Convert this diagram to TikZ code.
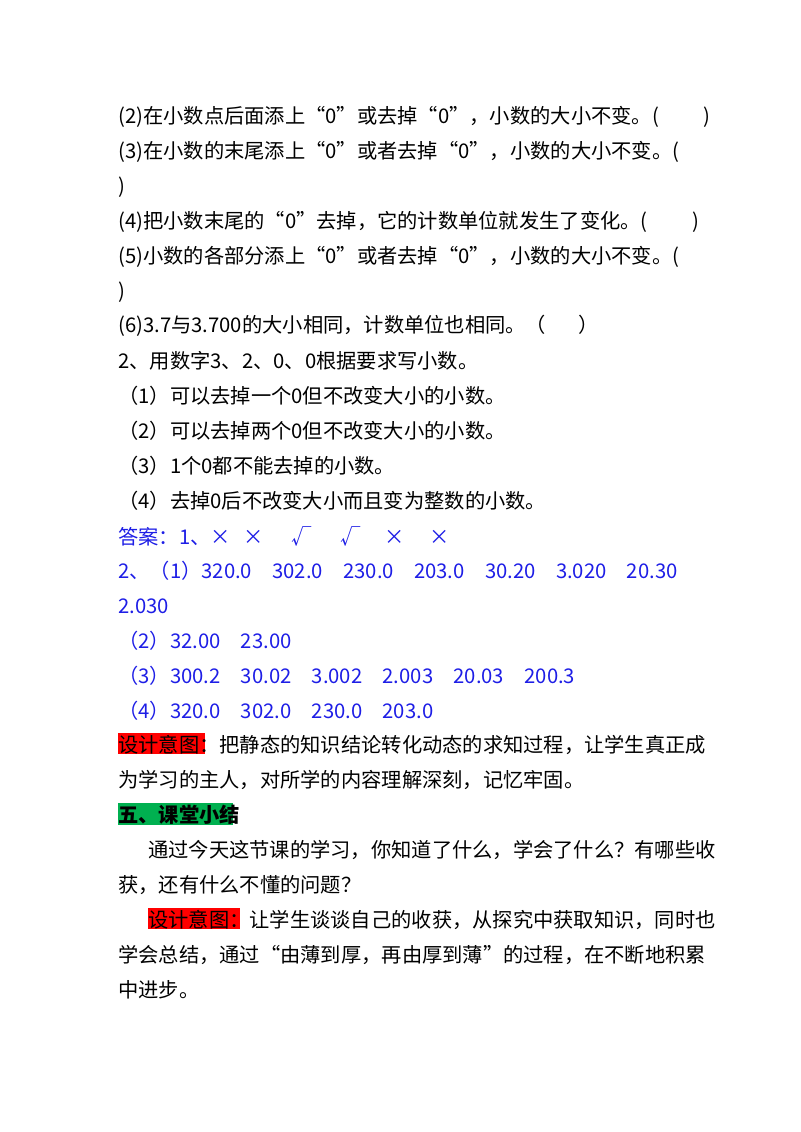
\documentclass[tikz,border=0pt]{standalone}
\usepackage{fontspec}
\setmainfont{Noto Sans CJK SC}
\definecolor{ansblue}{RGB}{30,30,230}
\definecolor{hlred}{RGB}{255,0,0}
\definecolor{hlgreen}{RGB}{0,176,80}
\begin{document}
\begin{tikzpicture}[x=0.75pt,y=-0.75pt,
 t/.style={anchor=west,inner sep=0pt,font=\fontsize{15.2}{18}\selectfont},
 a/.style={t,text=ansblue}]
\useasboundingbox (0,0) rectangle (800,1132);
\fill[hlred] (118,733) rectangle (205,754);
\fill[hlgreen] (118,803) rectangle (233,825);
\fill[hlred] (148,908) rectangle (240,929);
\node[t] (l1) at (118,117) {(2)在小数点后面添上“0”或去掉“0”，小数的大小不变。(\hspace{2.2em})};
\node[t] (l2) at (118,152) {(3)在小数的末尾添上“0”或者去掉“0”，小数的大小不变。(};
\node[t] (l3) at (118,187) {)};
\node[t] (l4) at (118,222) {(4)把小数末尾的“0”去掉，它的计数单位就发生了变化。(\hspace{2.2em})};
\node[t] (l5) at (118,257) {(5)小数的各部分添上“0”或者去掉“0”，小数的大小不变。(};
\node[t] (l6) at (118,292) {)};
\node[t] (l7) at (118,326) {(6)3.7与3.700的大小相同，计数单位也相同。（\hspace{1.6em}）};
\node[t] (l8) at (118,361) {2、用数字3、2、0、0根据要求写小数。};
\node[t] (l9) at (118,396) {（1）可以去掉一个0但不改变大小的小数。};
\node[t] (l10) at (118,431) {（2）可以去掉两个0但不改变大小的小数。};
\node[t] (l11) at (118,466) {（3）1个0都不能去掉的小数。};
\node[t] (l12) at (118,501) {（4）去掉0后不改变大小而且变为整数的小数。};
\node[a] (l13) at (118,536) {答案：1、×\hspace{0.6em}×\hspace{1.4em}√\hspace{1.4em}√\hspace{1.2em}×\hspace{1.2em}×};
\node[a] (l14) at (118,571) {2、（1）320.0\hspace{1em}302.0\hspace{1em}230.0\hspace{1em}203.0\hspace{1em}30.20\hspace{1em}3.020\hspace{1em}20.30};
\node[a] (l15) at (118,606) {2.030};
\node[a] (l16) at (118,641) {（2）32.00\hspace{1em}23.00};
\node[a] (l17) at (118,676) {（3）300.2\hspace{1em}30.02\hspace{1em}3.002\hspace{1em}2.003\hspace{1em}20.03\hspace{1em}200.3};
\node[a] (l18) at (118,711) {（4）320.0\hspace{1em}302.0\hspace{1em}230.0\hspace{1em}203.0};
\node[t] (l19) at (118,745) {设计意图：把静态的知识结论转化动态的求知过程，让学生真正成};
\node[t] (l20) at (118,780) {为学习的主人，对所学的内容理解深刻，记忆牢固。};
\node[t,font=\fontsize{15.2}{18}\selectfont\bfseries] (l21) at (118,815) {五、课堂小结};
\node[t] (l22) at (148,850) {通过今天这节课的学习，你知道了什么，学会了什么？有哪些收};
\node[t] (l23) at (118,885) {获，还有什么不懂的问题？};
\node[t] (l24) at (148,920) {设计意图：让学生谈谈自己的收获，从探究中获取知识，同时也};
\node[t] (l25) at (118,955) {学会总结，通过“由薄到厚，再由厚到薄”的过程，在不断地积累};
\node[t] (l26) at (118,990) {中进步。};
\end{tikzpicture}
\end{document}
